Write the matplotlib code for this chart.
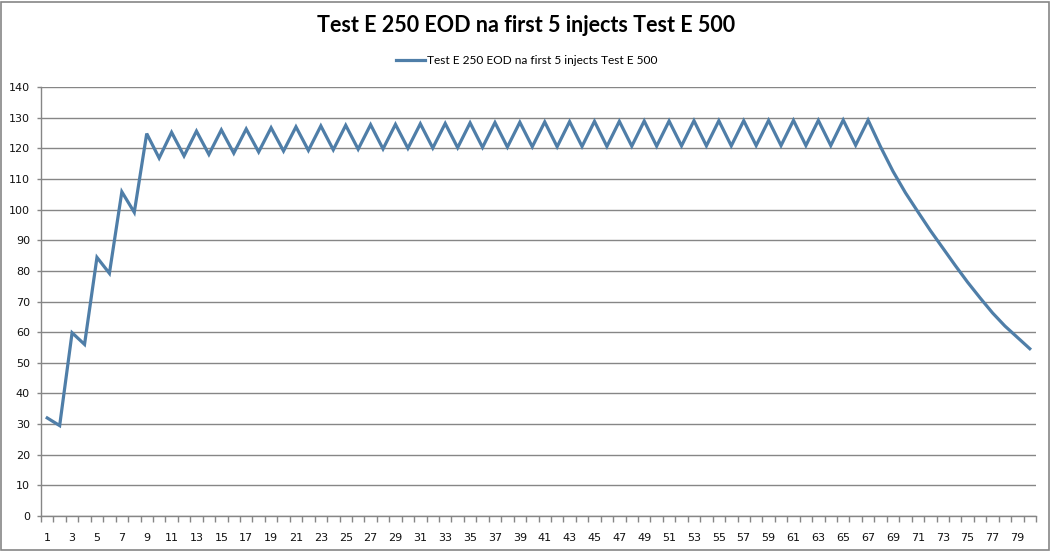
import matplotlib.pyplot as plt
from matplotlib.patches import Rectangle
from matplotlib.ticker import MultipleLocator, FixedLocator

series_name = 'Test E 250 EOD na first 5 injects Test E 500'

# day index 1..80
days = list(range(1, 81))

# blood level
levels = [
    32.0, 29.5, 59.8, 56.0, 84.4, 79.2, 105.8, 99.1,
    124.8, 116.8, 125.2, 117.5, 125.6, 118.0, 126.0, 118.4,
    126.3, 118.8, 126.7, 119.1, 127.0, 119.3, 127.3, 119.5,
    127.5, 119.7, 127.7, 119.8, 127.8, 120.0, 128.0, 120.1,
    128.1, 120.2, 128.3, 120.3, 128.4, 120.4, 128.5, 120.5,
    128.6, 120.5, 128.7, 120.6, 128.8, 120.6, 128.8, 120.7,
    128.9, 120.7, 128.9, 120.8, 129.0, 120.8, 129.0, 120.8,
    129.0, 120.9, 129.1, 120.9, 129.1, 120.9, 129.1, 120.9,
    129.2, 121.0, 129.2,
    120.5, 112.5, 105.5, 99.3, 93.2, 87.5, 81.8, 76.3,
    71.2, 66.3, 62.0, 58.3, 54.6,
]

x_labels = [str(d) for d in days if d % 2 == 1]

grid_col = '#868686'
line_col = '#4f7ea8'

fig = plt.figure(figsize=(10.52, 5.51), dpi=100)
ax = fig.add_axes([41 / 1052, 1 - 516 / 551, (1036 - 41) / 1052, (516 - 87) / 551])

ax.plot(days, levels, color=line_col, lw=2.3, solid_joinstyle='miter',
        label=series_name, zorder=3)

ax.set_xlim(0.5, 80.5)
ax.set_ylim(0, 140)
ax.yaxis.set_major_locator(MultipleLocator(10))
ax.grid(axis='y', color=grid_col, lw=1.0)
ax.set_axisbelow(True)

# category axis: tick marks between categories, labels on odd days
ax.xaxis.set_major_locator(FixedLocator([d for d in days if d % 2 == 1]))
ax.set_xticklabels(x_labels)
ax.xaxis.set_minor_locator(FixedLocator([d + 0.5 for d in range(0, 81)]))
ax.tick_params(axis='x', which='major', length=0, pad=12, labelsize=8, labelcolor='#111111')
ax.tick_params(axis='x', which='minor', length=4, width=1, color=grid_col, direction='out')
ax.tick_params(axis='y', length=3, width=1, color=grid_col, labelsize=8, pad=5,
               labelcolor='#111111')

for s in ['top', 'right']:
    ax.spines[s].set_visible(False)
for s in ['left', 'bottom']:
    ax.spines[s].set_color(grid_col)
    ax.spines[s].set_linewidth(1.0)

fig.text(0.5, 1 - 25 / 551, series_name, ha='center', va='center',
         fontsize=15.5, fontweight='bold', family=['Lato', 'DejaVu Sans'])

leg = fig.legend(loc='center', bbox_to_anchor=(527 / 1052, 1 - 61 / 551), frameon=False,
                 prop={'family': ['Lato', 'DejaVu Sans'], 'size': 8.6},
                 handlelength=2.4, handletextpad=0.2)

# outer chart border
fig.patches.append(Rectangle((1 / 1052, 1 / 551), 1 - 4 / 1052, 1 - 3 / 551,
                             transform=fig.transFigure, fill=False,
                             edgecolor=grid_col, lw=1.2))

plt.savefig('out.png', dpi=100)
